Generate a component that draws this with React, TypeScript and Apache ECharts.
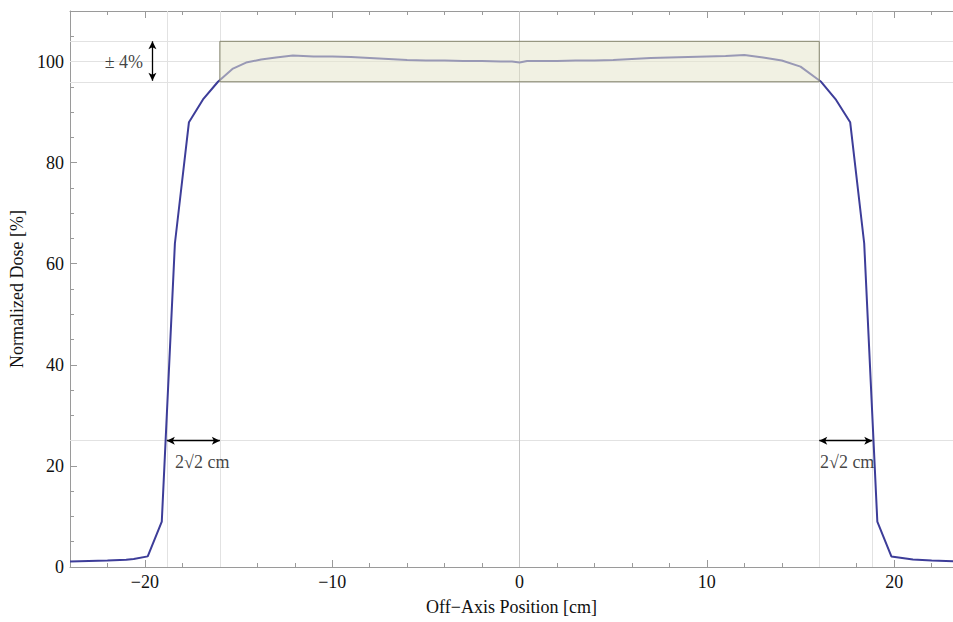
import React, { useEffect, useRef } from "react";
import * as echarts from "echarts";

const xPositions = [
  -24, -23, -22, -21, -20.6, -19.85, -19.1, -18.4, -17.65, -16.9, -16.1, -15.3, -14.6, -13.8, -13, -12.1,
  -11, -10, -9, -8, -7, -6, -5, -4, -3, -2, -1, -0.4, 0, 0.4, 1, 2, 3, 4, 5, 6, 7, 8, 9, 10, 11, 12, 13,
  14, 15, 16.1, 16.9, 17.65, 18.4, 19.1, 19.85, 21, 22, 23.2,
];
const doseValues = [
  1.1, 1.2, 1.3, 1.45, 1.6, 2.1, 9.0, 64, 88, 92.5, 96, 98.6, 99.8, 100.4, 100.8, 101.2,
  101.0, 101.0, 100.9, 100.7, 100.5, 100.3, 100.2, 100.2, 100.1, 100.1, 100.0, 100.0, 99.8, 100.1, 100.1,
  100.1, 100.2, 100.2, 100.3, 100.5, 100.7, 100.8, 100.9, 101.0, 101.1, 101.3, 100.8,
  100.2, 99.0, 96.0, 92.4, 88, 64, 9.0, 2.1, 1.5, 1.3, 1.15,
];
const majorXTicks = [-20, -10, 0, 10, 20];
const minorXTicks = [-22, -18, -16, -14, -12, -8, -6, -4, -2, 2, 4, 6, 8, 12, 14, 16, 18, 22];
const majorYTicks = [0, 20, 40, 60, 80, 100];
const minorYTicks = [5, 10, 15, 25, 30, 35, 45, 50, 55, 65, 70, 75, 85, 90, 95, 105];
const gridXLines = [-18.83, -16, 16, 18.83];
const gridYLines = [25, 96, 100, 104];
const zeroLine = 0;
const toleranceBand = { x0: -16, x1: 16, y0: 96, y1: 104 };
const widthArrowsX = [[-18.83, -16], [16, 18.83]];
const widthArrowY = 25;
const toleranceArrow = { x: -19.6, y0: 96.2, y1: 104 };
const textLabels: [number, number, string, string][] = [
  [-18.39, 20.7, "2√2 cm", "right"],
  [16.04, 20.7, "2√2 cm", "right"],
  [-20.1, 100, "± 4%", "left"],
];

const fmt = (v: number) => (v < 0 ? "\u2212" + Math.abs(v) : String(v));
const FONT = "Liberation Serif";

export default function App() {
  const ref = useRef<HTMLDivElement>(null);
  useEffect(() => {
    if (!ref.current) return;
    const chart = echarts.init(ref.current, null, { renderer: "svg" });
    const axisGray = "#9a9a9a";
    const baseX = {
      type: "value",
      min: -24,
      max: 23.14,
      splitLine: { show: false },
    };
    const baseY = {
      type: "value",
      min: 0,
      max: 110,
      splitLine: { show: false },
    };
    chart.setOption({
      animation: false,
      backgroundColor: "#ffffff",
      grid: { left: 70, top: 11, right: 0, bottom: 55, containLabel: false },
      xAxis: [
        {
          ...baseX,
          position: "bottom",
          name: "Off\u2212Axis Position [cm]",
          nameLocation: "middle",
          nameGap: 31,
          nameTextStyle: { fontFamily: FONT, fontSize: 18, color: "#111" },
          axisLine: { show: true, onZero: false, lineStyle: { color: axisGray, width: 1 } },
          axisTick: { show: true, inside: true, length: 7, customValues: majorXTicks, lineStyle: { color: axisGray } },
          axisLabel: { show: true, customValues: majorXTicks, formatter: fmt, margin: 6, fontFamily: FONT, fontSize: 18, color: "#111" },
        },
        {
          ...baseX,
          position: "bottom",
          axisLine: { show: false, onZero: false },
          axisTick: { show: true, inside: true, length: 4, customValues: minorXTicks, lineStyle: { color: axisGray } },
          axisLabel: { show: false },
        },
        {
          ...baseX,
          position: "top",
          axisLine: { show: true, onZero: false, lineStyle: { color: axisGray, width: 1 } },
          axisTick: { show: true, inside: true, length: 7, customValues: majorXTicks, lineStyle: { color: axisGray } },
          axisLabel: { show: false },
        },
        {
          ...baseX,
          position: "top",
          axisLine: { show: false, onZero: false },
          axisTick: { show: true, inside: true, length: 4, customValues: minorXTicks, lineStyle: { color: axisGray } },
          axisLabel: { show: false },
        },
      ],
      yAxis: [
        {
          ...baseY,
          position: "left",
          name: "Normalized Dose [%]",
          nameLocation: "middle",
          nameGap: 44,
          nameTextStyle: { fontFamily: FONT, fontSize: 18, color: "#111" },
          axisLine: { show: true, onZero: false, lineStyle: { color: axisGray, width: 1 } },
          axisTick: { show: true, inside: true, length: 7, customValues: majorYTicks, lineStyle: { color: axisGray } },
          axisLabel: { show: true, customValues: majorYTicks, formatter: fmt, margin: 6, fontFamily: FONT, fontSize: 18, color: "#111" },
        },
        {
          ...baseY,
          position: "left",
          axisLine: { show: false, onZero: false },
          axisTick: { show: true, inside: true, length: 4, customValues: minorYTicks, lineStyle: { color: axisGray } },
          axisLabel: { show: false },
        },
      ],
      series: [
        {
          type: "line",
          name: "grid",
          data: [],
          z: 1,
          silent: true,
          markLine: {
            symbol: ["none", "none"],
            silent: true,
            z: 1,
            label: { show: false },
            animation: false,
            lineStyle: { color: "#e2e2e2", width: 1, type: "solid" },
            data: [
              ...gridXLines.map((v) => ({ xAxis: v })),
              ...gridYLines.map((v) => ({ yAxis: v })),
              { xAxis: zeroLine, lineStyle: { color: "#c4c4c4", width: 1, type: "solid" } },
            ],
          },
        },
        {
          type: "line",
          name: "dose",
          data: xPositions.map((x, i) => [x, doseValues[i]]),
          showSymbol: false,
          symbol: "none",
          z: 3,
          lineStyle: { color: "#3d3d99", width: 2 },
        },
        {
          type: "line",
          name: "band",
          data: [],
          z: 5,
          silent: true,
          markArea: {
            silent: true,
            z: 10,
            itemStyle: { color: "rgba(230,230,204,0.55)", borderColor: "#86866e", borderWidth: 1 },
            data: [[{ coord: [toleranceBand.x0, toleranceBand.y0] }, { coord: [toleranceBand.x1, toleranceBand.y1] }]],
          },
          markLine: {
            silent: true,
            z: 11,
            symbol: ["arrow", "arrow"],
            symbolSize: [6, 8],
            label: { show: false },
            lineStyle: { color: "#000", width: 1.3, type: "solid" },
            data: [
              ...widthArrowsX.map(([a, b]) => [{ coord: [a, widthArrowY] }, { coord: [b, widthArrowY] }]),
              [{ coord: [toleranceArrow.x, toleranceArrow.y0] }, { coord: [toleranceArrow.x, toleranceArrow.y1] }],
            ],
          },
        },
        {
          type: "scatter",
          name: "labels",
          z: 12,
          symbolSize: 0,
          silent: true,
          data: textLabels.map(([x, y, t, pos]) => ({
            value: [x, y],
            label: {
              show: true,
              position: pos,
              distance: 0,
              formatter: t,
              fontFamily: FONT,
              fontSize: 18,
              color: "#111",
            },
          })),
        },
      ],
    });
    return () => chart.dispose();
  }, []);
  return <div ref={ref} style={{ position: "absolute", left: 0, top: 0, width: 953, height: 622 }} />;
}
